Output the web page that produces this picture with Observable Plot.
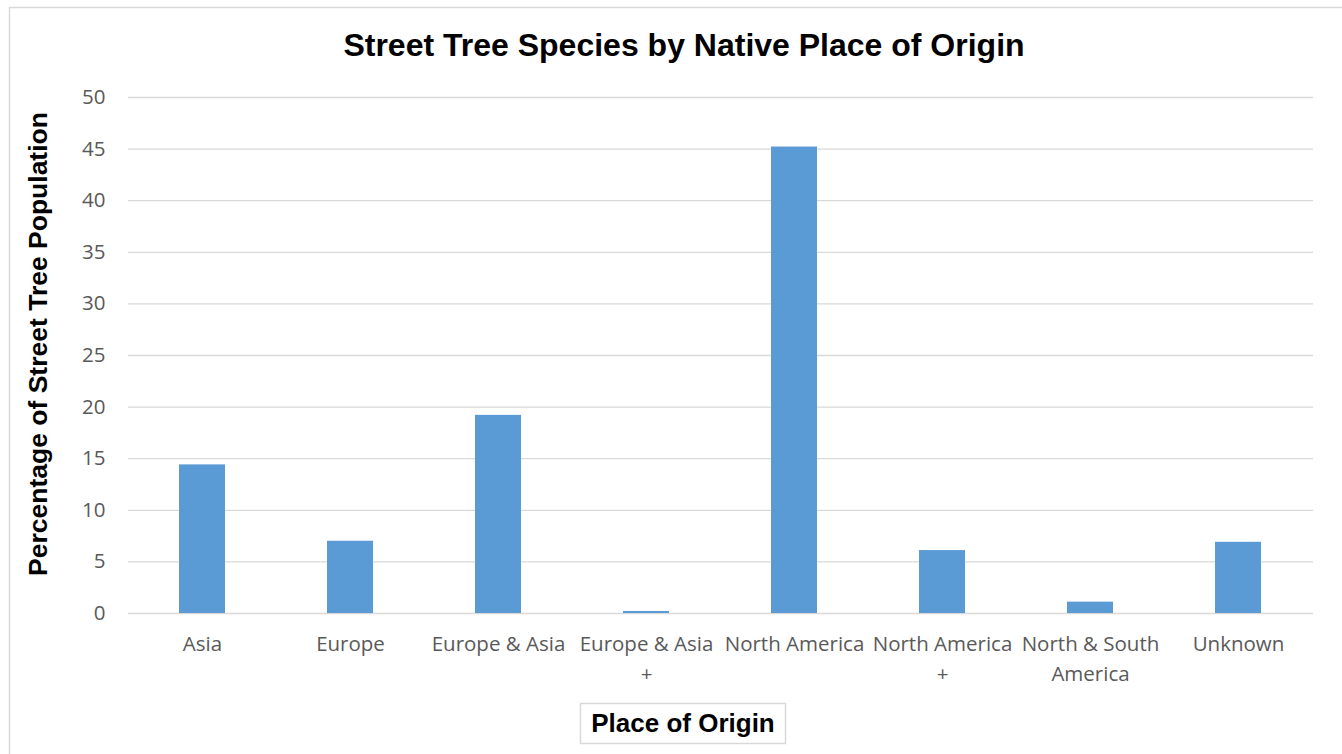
<!DOCTYPE html>
<html>
<head>
<meta charset="utf-8">
<script src="https://cdn.jsdelivr.net/npm/d3@7"></script>
<script src="https://cdn.jsdelivr.net/npm/@observablehq/plot@0.6"></script>
<style>
  html, body { margin: 0; padding: 0; background: #fff; }
  #chart svg { display: block; }
</style>
</head>
<body>
<div id="chart"></div>
<script>
const categories = ["Asia", "Europe", "Europe & Asia", "Europe & Asia +", "North America", "North America +", "North & South America", "Unknown"];
const tickLabels = ["Asia", "Europe", "Europe & Asia", "Europe & Asia\n+", "North America", "North America\n+", "North & South\nAmerica", "Unknown"];
const values = [14.4, 7.0, 19.2, 0.2, 45.2, 6.1, 1.1, 6.9];
const yTicks = [0, 5, 10, 15, 20, 25, 30, 35, 40, 45, 50];

const titleText = "Street Tree Species by Native Place of Origin";
const yTitle = "Percentage of Street Tree Population";
const xTitle = "Place of Origin";

const data = categories.map((c, i) => ({category: c, value: values[i]}));
const labelOf = new Map(categories.map((c, i) => [c, tickLabels[i]]));

const W = 1342, H = 754;
const plot = Plot.plot({
  width: W,
  height: H,
  marginLeft: 128,
  marginRight: 29,
  marginTop: 97,
  marginBottom: 141,
  style: {fontFamily: "'Open Sans', sans-serif", background: "#fff", overflow: "visible"},
  x: {domain: categories, paddingInner: 0.686, paddingOuter: 0.343, label: null},
  y: {domain: [0, 50], ticks: yTicks, label: null},
  marks: [
    Plot.gridY(yTicks, {stroke: "#d9d9d9", strokeOpacity: 1, strokeWidth: 1.3}),
    Plot.barY(data, {x: "category", y: "value", fill: "#5b9bd5"}),
    Plot.axisY(yTicks, {tickSize: 0, tickPadding: 23, fontSize: 20.5, fill: "#595959", label: null}),
    Plot.axisX({tickSize: 0, tickPadding: 16, fontSize: 20.5, fill: "#595959", lineHeight: 1.46, tickFormat: d => labelOf.get(d), label: null})
  ]
});

document.getElementById("chart").appendChild(plot);
const svg = d3.select(plot);

svg.append("rect")
  .attr("x", 9.5).attr("y", 7.5).attr("width", W).attr("height", H)
  .attr("fill", "none").attr("stroke", "#d9d9d9").attr("stroke-width", 1.5);

svg.append("text")
  .attr("x", 684).attr("y", 56)
  .attr("text-anchor", "middle")
  .attr("font-family", "'Liberation Sans', Arial, sans-serif")
  .attr("font-weight", "bold").attr("font-size", 32).attr("fill", "#000")
  .text(titleText);

svg.append("text")
  .attr("transform", "translate(47,344) rotate(-90)")
  .attr("text-anchor", "middle")
  .attr("font-family", "'Liberation Sans', Arial, sans-serif")
  .attr("font-weight", "bold").attr("font-size", 26.5).attr("fill", "#000")
  .text(yTitle);

svg.append("rect")
  .attr("x", 580.5).attr("y", 703.5).attr("width", 205).attr("height", 40)
  .attr("fill", "#fff").attr("stroke", "#d9d9d9").attr("stroke-width", 1.5);

svg.append("text")
  .attr("x", 683).attr("y", 732)
  .attr("text-anchor", "middle")
  .attr("font-family", "'Liberation Sans', Arial, sans-serif")
  .attr("font-weight", "bold").attr("font-size", 26).attr("fill", "#000")
  .text(xTitle);
</script>
</body>
</html>
